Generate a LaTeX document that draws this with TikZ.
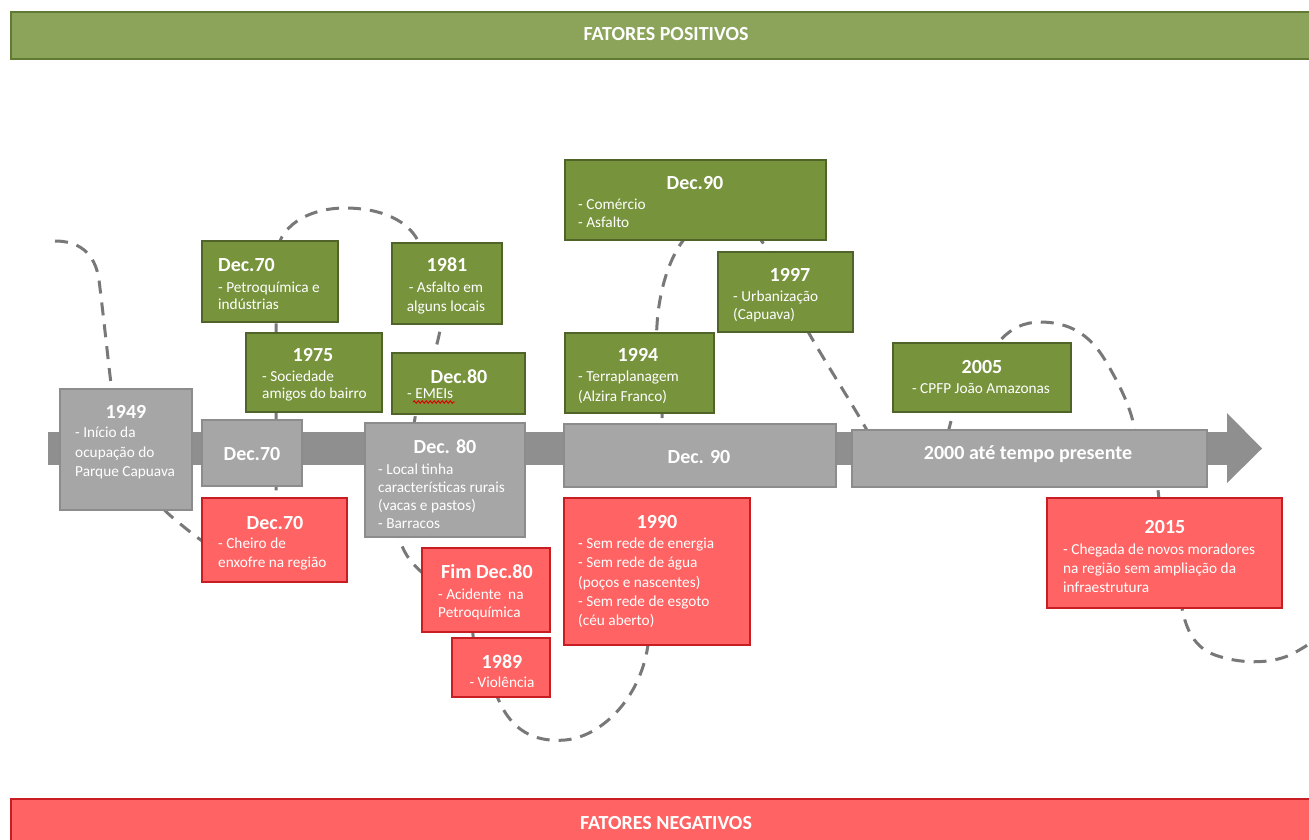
\documentclass[tikz,border=0pt]{standalone}
\usepackage{fontspec}
\setmainfont{Carlito}
\usetikzlibrary{decorations.pathmorphing}
\definecolor{barG}{RGB}{139,164,90}
\definecolor{barGb}{RGB}{96,122,52}
\definecolor{boxG}{RGB}{119,147,60}
\definecolor{boxGb}{RGB}{80,99,40}
\definecolor{boxR}{RGB}{255,99,99}
\definecolor{boxRb}{RGB}{200,30,35}
\definecolor{boxX}{RGB}{166,166,166}
\definecolor{boxXb}{RGB}{140,140,140}
\definecolor{bandc}{RGB}{143,143,143}
\definecolor{wavec}{RGB}{120,120,120}
\newcommand\bodyfs[1]{\fontsize{15.3}{#1}\selectfont}
\newcommand\bx[6]{\node[#1, minimum width=#5pt-#3pt, minimum height=#6pt-#4pt] (#2) at ({(#3+#5)/2},{(#4+#6)/2}) {};}
\tikzset{
  gbox/.style={rectangle, draw=boxGb, fill=boxG, line width=2pt, inner sep=0pt},
  rbox/.style={rectangle, draw=boxRb, fill=boxR, line width=2pt, inner sep=0pt},
  xbox/.style={rectangle, draw=boxXb, fill=boxX, line width=2pt, inner sep=0pt},
  ttl/.style={text=white, inner sep=0pt, font=\fontsize{20}{22}\selectfont\bfseries, anchor=base},
  bodytxt/.style={text=white, inner sep=0pt, align=left, anchor=north west},
  bodyone/.style={text=white, inner sep=0pt, font=\bodyfs{18}, anchor=base},
  wave/.style={draw=wavec, line width=3pt, dash pattern=on 13pt off 9pt},
}
\begin{document}
\begin{tikzpicture}[x=1pt, y=-1pt]
\useasboundingbox (0,0) rectangle (1309,839);
\clip (0,0) rectangle (1309,839);
\fill[white] (0,0) rectangle (1309,839);

% bars
\node[rectangle, draw=barGb, fill=barG, line width=2pt, minimum width=1310pt, minimum height=47pt, anchor=north west] (topbar) at (10,11) {};
\node[text=white, font=\fontsize{20}{22}\selectfont\bfseries, anchor=base] (toptxt) at (666,40) {FATORES POSITIVOS};
\node[rectangle, draw=boxRb, fill=boxR, line width=2pt, minimum width=1310pt, minimum height=50pt, anchor=north west] (botbar) at (10,798) {};
\node[text=white, font=\fontsize{20}{22}\selectfont\bfseries, anchor=base] (bottxt) at (666,829) {FATORES NEGATIVOS};

% dashed wave (part 1, ends hidden inside the 1990 box)
\draw[wave] (55,241) .. controls (78,241) and (95,252) .. (99,280)
  .. controls (104,320) and (108,360) .. (112,392)
  .. controls (116,430) and (140,490) .. (172,517)
  .. controls (185,528) and (195,536) .. (205,543)
  .. controls (240,568) and (276,560) .. (276,500)
  -- (276,260)
  .. controls (276,225) and (310,208) .. (345,208)
  .. controls (380,208) and (410,220) .. (420,245)
  .. controls (430,270) and (445,300) .. (440,330)
  .. controls (436,355) and (420,390) .. (415,418)
  .. controls (408,460) and (395,510) .. (400,540)
  .. controls (404,555) and (414,566) .. (425,575)
  .. controls (450,595) and (472,610) .. (473,635)
  .. controls (475,660) and (490,680) .. (500,703)
  .. controls (515,735) and (540,742) .. (565,740)
  .. controls (600,737) and (640,700) .. (648,645)
  .. controls (652,620) and (655,600) .. (656,580);
% dashed wave (part 2, starts hidden inside the Dec. 90 box)
\draw[wave] (663,440) -- (662,412)
  .. controls (660,380) and (655,350) .. (657,325)
  .. controls (659,290) and (670,255) .. (686,237)
  .. controls (705,215) and (745,215) .. (763,243)
  .. controls (770,255) and (790,300) .. (806,328)
  .. controls (825,362) and (850,400) .. (868,432)
  .. controls (890,470) and (940,470) .. (950,425)
  .. controls (955,400) and (985,360) .. (998,343)
  .. controls (1010,328) and (1025,322) .. (1040,322)
  .. controls (1070,322) and (1090,335) .. (1105,360)
  .. controls (1120,385) and (1132,410) .. (1135,432)
  .. controls (1140,460) and (1155,470) .. (1158,490)
  .. controls (1162,530) and (1178,580) .. (1182,608)
  .. controls (1186,630) and (1195,648) .. (1215,655)
  .. controls (1240,664) and (1270,664) .. (1290,655)
  .. controls (1300,650) and (1306,646) .. (1312,642);

% timeline band and arrow head
\fill[bandc] (48,432) rectangle (1228,465);
\fill[bandc] (1227,413) -- (1262,448.5) -- (1227,483) -- cycle;

% gray boxes
\bx{xbox}{x49}{60}{389}{192}{510}
\node[ttl] (x49t) at (126,418.5) {1949};
\node[bodytxt, font=\bodyfs{19.5}] (x49b) at (75,424) {\strut - Início da\\ ocupação do\\ Parque Capuava};

\bx{xbox}{x70}{202}{420}{302}{486}
\node[ttl] (x70t) at (252,460) {Dec.70};

\bx{xbox}{x80}{365}{423}{525}{537}
\node[ttl] (x80t) at (445,453.5) {Dec. 80};
\node[bodytxt, font=\bodyfs{18}] (x80b) at (378,461.2) {\strut - Local tinha\\ características rurais\\ (vacas e pastos)\\ - Barracos};

\bx{xbox}{x90}{564}{424}{836}{487}
\node[ttl] (x90t) at (699,463.5) {Dec. 90};

\bx{xbox}{x00}{852}{430}{1207}{487}
\node[ttl] (x00t) at (1028,459.5) {2000 até tempo presente};

% green boxes
\bx{gbox}{g70}{202}{241}{338}{322}
\node[ttl, anchor=base west] (g70t) at (218,271.5) {Dec.70};
\node[bodytxt, font=\bodyfs{16.7}] (g70b) at (218,281.1) {\strut - Petroquímica e\\ indústrias};

\bx{gbox}{g75}{246}{333}{382}{412}
\node[ttl] (g75t) at (313,361.5) {1975};
\node[bodytxt, font=\bodyfs{17}] (g75b) at (262,369.6) {\strut - Sociedade\\ amigos do bairro};

\bx{gbox}{g81}{392}{243}{502}{324}
\node[ttl] (g81t) at (447,271.5) {1981};
\node[bodytxt, align=center, anchor=north, font=\bodyfs{19}] (g81b) at (446,279.2) {\strut - Asfalto em\\ alguns locais};

\bx{gbox}{g80}{392}{353}{525}{414}
\node[ttl] (g80t) at (459,383.5) {Dec.80};
\node[bodyone, anchor=base west] (g80b) at (407,398) {- EMEIs};
\draw[red!85!black, line width=0.9pt, decorate, decoration={snake, amplitude=1.2pt, segment length=4pt}] (413,402) -- (455,402);

\bx{gbox}{g90}{565}{160}{826}{240}
\node[ttl] (g90t) at (695,189.5) {Dec.90};
\node[bodytxt, font=\bodyfs{18}] (g90b) at (578,196.9) {\strut - Comércio\\ - Asfalto};

\bx{gbox}{g97}{718}{252}{853}{332}
\node[ttl] (g97t) at (790,281.5) {1997};
\node[bodytxt, font=\bodyfs{18}] (g97b) at (733,288.9) {\strut - Urbanização\\ (Capuava)};

\bx{gbox}{g94}{565}{333}{714}{413}
\node[ttl] (g94t) at (638,361.5) {1994};
\node[bodytxt, font=\bodyfs{20}] (g94b) at (578,367.5) {\strut - Terraplanagem\\ (Alzira Franco)};

\bx{gbox}{g05}{893}{343}{1071}{412}
\node[ttl] (g05t) at (982,373.5) {2005};
\node[bodyone] (g05b) at (981,393.5) {- CPFP João Amazonas};

% red boxes
\bx{rbox}{r70}{202}{498}{347}{582}
\node[ttl] (r70t) at (275,529.5) {Dec.70};
\node[bodytxt, font=\bodyfs{19}] (r70b) at (218,535.2) {\strut - Cheiro de\\ enxofre na região};

\bx{rbox}{rfim}{422}{548}{550}{632}
\node[ttl] (rfimt) at (487,578.5) {Fim Dec.80};
\node[bodytxt, font=\bodyfs{18}] (rfimb) at (438,586.9) {\strut - Acidente\ \ na\\ Petroquímica};

\bx{rbox}{r89}{452}{638}{550}{697}
\node[ttl] (r89t) at (502,668.5) {1989};
\node[bodyone] (r89b) at (502,687.5) {- Violência};

\bx{rbox}{r90}{564}{498}{750}{645}
\node[ttl] (r90t) at (657,528.5) {1990};
\node[bodytxt, font=\bodyfs{19.25}] (r90b) at (578,535) {\strut - Sem rede de energia\\ - Sem rede de água\\ (poços e nascentes)\\ - Sem rede de esgoto\\ (céu aberto)};

\bx{rbox}{r15}{1047}{498}{1282}{608}
\node[ttl] (r15t) at (1165,533.5) {2015};
\node[bodytxt, font=\bodyfs{19}] (r15b) at (1063,541.2) {\strut - Chegada de novos moradores\\ na região sem ampliação da\\ infraestrutura};
\end{tikzpicture}
\end{document}
